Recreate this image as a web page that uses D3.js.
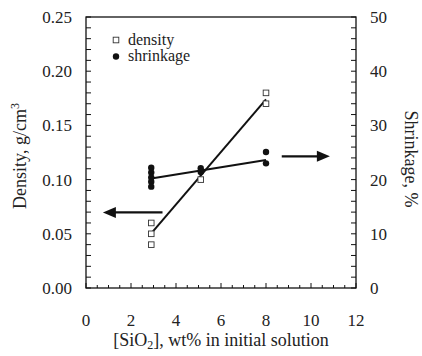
<!DOCTYPE html>
<html>
<head>
<meta charset="utf-8">
<script src="https://cdn.jsdelivr.net/npm/d3@7"></script>
<style>
  body { margin: 0; background: #fff; }
</style>
</head>
<body>
<div class="chart"></div>
<script>
// measured values
var densityX = [2.9, 2.9, 2.9, 5.1, 8, 8];
var densityY = [0.06, 0.05, 0.04, 0.10, 0.18, 0.17];
var shrinkX = [2.9, 2.9, 2.9, 2.9, 2.9, 5.1, 5.1, 8, 8];
var shrinkY = [22.2, 21.3, 20.4, 19.6, 18.7, 22.1, 21.4, 25.1, 23.0];
var densityFit = [[2.9, 0.0504], [8, 0.174]];
var shrinkFit = [[2.9, 20.2], [8, 23.6]];
var xTicks = [0, 2, 4, 6, 8, 10, 12];
var yTicks = [0, 0.05, 0.10, 0.15, 0.20, 0.25];
var y2Ticks = [0, 10, 20, 30, 40, 50];

var width = 422,
    height = 356;
var margin = {left: 86, right: 66, top: 17, bottom: 68};
var serif = "'Liberation Serif', 'DejaVu Serif', 'Times New Roman', serif";

var svg = d3.select(".chart")
  .append("svg")
    .attr("width", width)
    .attr("height", height)
    .attr("font-family", serif)
    .style("font-family", serif);

var x = d3.scaleLinear().domain([0, 12]).range([margin.left, width - margin.right]);
var y = d3.scaleLinear().domain([0, 0.25]).range([height - margin.bottom, margin.top]);
var y2 = d3.scaleLinear().domain([0, 50]).range([height - margin.bottom, margin.top]);

// frame
svg.append("rect")
  .attr("x", x(0)).attr("y", y(0.25))
  .attr("width", x(12) - x(0)).attr("height", y(0) - y(0.25))
  .attr("fill", "none").attr("stroke", "#111").attr("stroke-width", 1.3);

// inward ticks
function tickLines(vals, fn) {
  svg.append("g").selectAll("line")
    .data(vals)
    .enter()
    .append("line")
    .each(fn)
    .attr("stroke", "#111").attr("stroke-width", 1);
}
tickLines(d3.range(0, 0.2501, 0.01), function(d) {
  d3.select(this).attr("x1", x(0)).attr("x2", x(0) + 5).attr("y1", y(d)).attr("y2", y(d));
});
tickLines(d3.range(0, 50.1, 2), function(d) {
  d3.select(this).attr("x1", x(12)).attr("x2", x(12) - 5).attr("y1", y2(d)).attr("y2", y2(d));
});
tickLines(d3.range(0, 12.01, 0.5), function(d) {
  var len = (d % 2 === 0) ? 5 : 3;
  d3.select(this).attr("x1", x(d)).attr("x2", x(d)).attr("y1", y(0)).attr("y2", y(0) - len);
});

// tick labels
svg.append("g").selectAll("text")
  .data(yTicks)
  .enter()
  .append("text")
  .attr("x", x(0) - 14)
  .attr("y", function(d) { return y(d); })
  .attr("dy", "0.35em")
  .attr("text-anchor", "end")
  .attr("fill", "#222")
  .style("font-size", "17px")
  .text(function(d) { return d3.format(".2f")(d); });

svg.append("g").selectAll("text")
  .data(y2Ticks)
  .enter()
  .append("text")
  .attr("x", x(12) + 14)
  .attr("y", function(d) { return y2(d); })
  .attr("dy", "0.35em")
  .attr("fill", "#222")
  .style("font-size", "17px")
  .text(function(d) { return d; });

svg.append("g").selectAll("text")
  .data(xTicks)
  .enter()
  .append("text")
  .attr("x", function(d) { return x(d); })
  .attr("y", y(0) + 38)
  .attr("text-anchor", "middle")
  .attr("fill", "#222")
  .style("font-size", "17px")
  .text(function(d) { return d; });

// axis titles
svg.append("text")
  .attr("transform", "translate(26,156) rotate(-90)")
  .attr("text-anchor", "middle")
  .attr("fill", "#222")
  .style("font-size", "18px")
  .html('Density, g/cm<tspan dy="-7" font-size="12">3</tspan>');

svg.append("text")
  .attr("transform", "translate(405,159) rotate(90)")
  .attr("text-anchor", "middle")
  .attr("fill", "#222")
  .style("font-size", "18px")
  .text("Shrinkage, %");

svg.append("text")
  .attr("x", 221)
  .attr("y", 346)
  .attr("text-anchor", "middle")
  .attr("fill", "#222")
  .style("font-size", "18px")
  .html('[SiO<tspan dy="3" font-size="12">2</tspan><tspan dy="-3">], wt% in initial solution</tspan>');

// fit lines
var line = d3.line();
svg.append("path")
  .attr("d", line(densityFit.map(function(d) { return [x(d[0]), y(d[1])]; })))
  .attr("stroke", "#111").attr("stroke-width", 2).attr("fill", "none");
svg.append("path")
  .attr("d", line(shrinkFit.map(function(d) { return [x(d[0]), y2(d[1])]; })))
  .attr("stroke", "#111").attr("stroke-width", 2).attr("fill", "none");

// points
svg.append("g").selectAll("circle")
  .data(shrinkX)
  .enter()
  .append("circle")
  .attr("cx", function(d) { return x(d); })
  .attr("cy", function(d, i) { return y2(shrinkY[i]); })
  .attr("r", 3.2)
  .attr("fill", "#111");

svg.append("g").selectAll("rect")
  .data(densityX)
  .enter()
  .append("rect")
  .attr("x", function(d) { return x(d) - 2.8; })
  .attr("y", function(d, i) { return y(densityY[i]) - 2.8; })
  .attr("width", 5.6).attr("height", 5.6)
  .attr("fill", "#fff").attr("stroke", "#333").attr("stroke-width", 0.9);

// arrows
function arrow(x1, x2, yy) {
  var dir = x2 > x1 ? 1 : -1;
  svg.append("line")
    .attr("x1", x1).attr("x2", x2 - dir * 8).attr("y1", yy).attr("y2", yy)
    .attr("stroke", "#111").attr("stroke-width", 2.2);
  svg.append("path")
    .attr("d", "M" + x2 + "," + yy + "L" + (x2 - dir * 13) + "," + (yy - 5.5) + "L" + (x2 - dir * 13) + "," + (yy + 5.5) + "Z")
    .attr("fill", "#111");
}
arrow(x(3.4), x(0.75), y(0.0697));
arrow(x(8.7), x(10.84), y2(24.3));

// legend
svg.append("rect")
  .attr("x", 113.2).attr("y", 37.2).attr("width", 5.6).attr("height", 5.6)
  .attr("fill", "#fff").attr("stroke", "#333").attr("stroke-width", 0.9);
svg.append("circle").attr("cx", 116).attr("cy", 56.5).attr("r", 3.2).attr("fill", "#111");
svg.append("text").attr("x", 128).attr("y", 45).attr("fill", "#222").style("font-size", "16px").text("density");
svg.append("text").attr("x", 128).attr("y", 61).attr("fill", "#222").style("font-size", "16px").text("shrinkage");
</script>
</body>
</html>
